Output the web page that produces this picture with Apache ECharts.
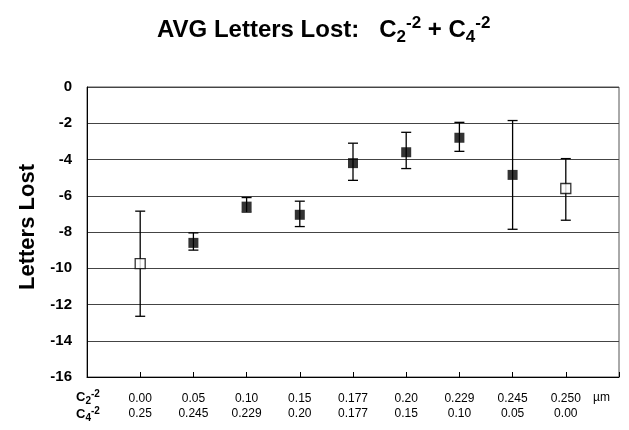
<!DOCTYPE html>
<html><head><meta charset="utf-8">
<script src="https://cdn.jsdelivr.net/npm/echarts@6/dist/echarts.min.js"></script>
<style>html,body{margin:0;padding:0;background:#fff}#c{width:629px;height:430px}</style>
</head><body><div id="c"></div>
<script>
const c2Labels = ['0.00','0.05','0.10','0.15','0.177','0.20','0.229','0.245','0.250'];
const c4Labels = ['0.25','0.245','0.229','0.20','0.177','0.15','0.10','0.05','0.00'];
const means = [-9.75, -8.6, -6.6, -7.05, -4.2, -3.6, -2.8, -4.85, -5.6];
const upper = [-6.85, -8.05, -6.1, -6.3, -3.1, -2.5, -1.95, -1.85, -3.95];
const lower = [-12.65, -9.0, -6.9, -7.7, -5.15, -4.5, -3.55, -7.85, -7.35];
const openMarker = [true, false, false, false, false, false, false, false, true];
const yTicks = [0, -2, -4, -6, -8, -10, -12, -14, -16];

const F = 'Liberation Sans, Arial, sans-serif';
const chart = echarts.init(document.getElementById('c'));
const pts = means.map((m, i) => ({
  value: [i + 1, m],
  itemStyle: openMarker[i] ? {color: '#fff', borderColor: '#000', borderWidth: 1.3} : {color: '#000'}
}));
const errData = means.map((m, i) => [i + 1, lower[i], upper[i]]);

const subRich = {
  b: {fontFamily: F, fontSize: 13, fontWeight: 'bold', color: '#000'},
  s: {fontFamily: F, fontSize: 10, fontWeight: 'bold', color: '#000', padding: [7, 0, 0, 0]},
  p: {fontFamily: F, fontSize: 10, fontWeight: 'bold', color: '#000', padding: [0, 0, 7, 0]}
};
const titleRich = {
  b: {fontFamily: F, fontSize: 24, fontWeight: 'bold', color: '#000'},
  s: {fontFamily: F, fontSize: 17, fontWeight: 'bold', color: '#000', padding: [14, 0, 0, 0]},
  p: {fontFamily: F, fontSize: 17, fontWeight: 'bold', color: '#000', padding: [0, 0, 14, 0]}
};

chart.setOption({
  animation: false,
  grid: {left: 87, right: 10, top: 87, bottom: 53, show: true, borderColor: '#555', borderWidth: 1},
  graphic: [
    {type: 'text', left: 157, top: 15, style: {rich: titleRich,
      text: '{b|AVG Letters Lost:   C}{s|2}{p|-2}{b| + C}{s|4}{p|-2}'}},
    {type: 'text', left: 76, top: 389, style: {rich: subRich, text: '{b|C}{s|2}{p|-2}'}},
    {type: 'text', left: 76, top: 406, style: {rich: subRich, text: '{b|C}{s|4}{p|-2}'}},
    {type: 'text', left: 593, top: 392, style: {text: 'µm', fontFamily: F, fontSize: 12, fill: '#000'}}
  ],
  xAxis: {
    type: 'value', min: 0, max: 10, interval: 1,
    axisLine: {show: true, onZero: false, lineStyle: {color: '#000'}},
    axisTick: {show: true, inside: true, length: 5, lineStyle: {color: '#000'}},
    splitLine: {show: false},
    axisLabel: {
      margin: 14, fontFamily: F, fontSize: 12, color: '#000', lineHeight: 15,
      formatter: v => (v >= 1 && v <= 9) ? c2Labels[v - 1] + '\n' + c4Labels[v - 1] : ''
    }
  },
  yAxis: {
    type: 'value', min: -16, max: 0, interval: 2,
    name: 'Letters Lost', nameLocation: 'middle', nameGap: 43,
    nameTextStyle: {fontFamily: F, fontSize: 22, fontWeight: 'bold', color: '#000', padding: [0, 0, 0, 10]},
    axisLine: {show: true, lineStyle: {color: '#000'}},
    axisTick: {show: false},
    splitLine: {show: true, lineStyle: {color: '#444', width: 1}},
    axisLabel: {margin: 15, fontFamily: F, fontSize: 15, fontWeight: 'bold', color: '#000',
      formatter: v => yTicks.includes(v) ? String(v) : ''}
  },
  series: [
    {
      type: 'custom',
      data: errData,
      z: 3,
      renderItem: (params, api) => {
        const x = api.value(0);
        const lo = api.coord([x, api.value(1)]);
        const hi = api.coord([x, api.value(2)]);
        const w = 5;
        const st = {stroke: '#000', lineWidth: 1.3};
        return {type: 'group', children: [
          {type: 'line', shape: {x1: lo[0], y1: lo[1], x2: hi[0], y2: hi[1]}, style: st},
          {type: 'line', shape: {x1: lo[0] - w, y1: lo[1], x2: lo[0] + w, y2: lo[1]}, style: st},
          {type: 'line', shape: {x1: hi[0] - w, y1: hi[1], x2: hi[0] + w, y2: hi[1]}, style: st}
        ]};
      }
    },
    {
      type: 'scatter', symbol: 'rect', symbolSize: 10, z: 5,
      data: pts
    }
  ]
});
</script></body></html>
